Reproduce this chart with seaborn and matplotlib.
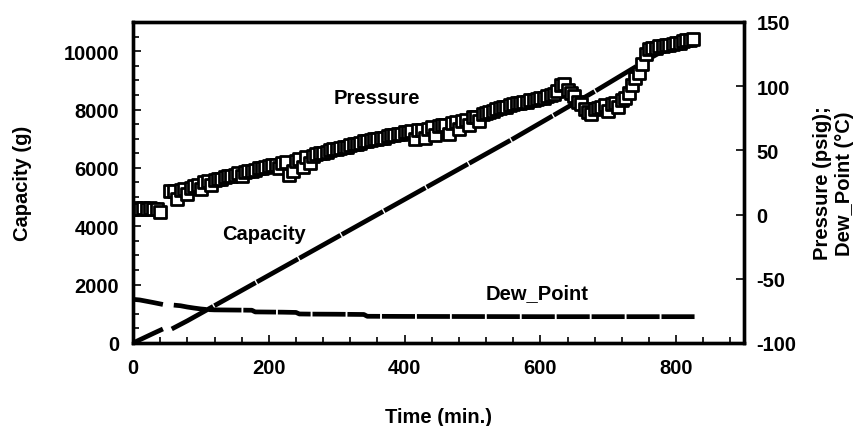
import matplotlib
matplotlib.use("Agg")
import matplotlib.pyplot as plt
import seaborn as sns
import pandas as pd
from matplotlib.ticker import MultipleLocator

sns.set_style("ticks")
plt.rcParams["font.family"] = ["Liberation Sans", "DejaVu Sans"]
plt.rcParams["font.weight"] = "bold"
plt.rcParams["axes.labelweight"] = "bold"
plt.rcParams["axes.unicode_minus"] = False
for key in ["text.color", "axes.labelcolor", "xtick.color", "ytick.color", "axes.edgecolor"]:
    plt.rcParams[key] = "black"

# capacity (g) -- two runs, the logger paused around 45-55 min
cap_time_1 = [0, 10, 20, 30, 44]
cap_1 = [0, 110, 220, 330, 480]
cap_time_2 = [57, 80, 100, 120, 140, 160, 180, 200, 220, 240, 260, 280, 300,
              320, 340, 360, 380, 400, 420, 440, 460, 480, 500, 520, 540, 560,
              580, 600, 620, 640, 660, 680, 700, 720, 740, 760, 780, 800, 826]
cap_2 = [480, 760, 1020, 1280, 1540, 1800, 2060, 2320, 2580, 2840, 3100, 3360,
         3620, 3880, 4140, 4400, 4660, 4920, 5180, 5440, 5700, 5960, 6220,
         6480, 6740, 7000, 7270, 7540, 7810, 8080, 8350, 8620, 8900, 9180,
         9460, 9740, 10000, 10250, 10500]

# dew point (degC), right axis
dew_time_1 = [0, 10, 20, 30, 44]
dew_1 = [-66, -66.5, -67.5, -68.5, -70]
dew_time_2 = [60, 70, 80, 90, 100, 110, 120, 140, 160, 175, 180, 200, 220,
              240, 245, 260, 300, 340, 345, 400, 500, 600, 700, 800, 828]
dew_2 = [-70.5, -71, -72, -72.8, -73.5, -74, -74.2, -74.3, -74.4, -74.5,
         -75.8, -75.9, -76, -76.2, -77.4, -77.5, -77.6, -77.8, -79.2, -79.3,
         -79.4, -79.5, -79.5, -79.5, -79.5]

# pressure (psig), right axis, one reading every 5 min
pres_time = [0, 5, 10, 15, 20, 25, 30, 35, 40,
             55, 60, 65, 70, 75, 80, 85, 90, 95, 100,
             105, 110, 115, 120, 125, 130, 135, 140, 145, 150,
             155, 160, 165, 170, 175, 180, 185, 190, 195, 200,
             205, 210, 215, 220, 225, 230, 235, 240, 245, 250,
             255, 260, 265, 270, 275, 280, 285, 290, 295, 300,
             305, 310, 315, 320, 325, 330, 335, 340, 345, 350,
             355, 360, 365, 370, 375, 380, 385, 390, 395, 400,
             405, 410, 415, 420, 425, 430, 435, 440, 445, 450,
             455, 460, 465, 470, 475, 480, 485, 490, 495, 500,
             505, 510, 515, 520, 525, 530, 535, 540, 545, 550,
             555, 560, 565, 570, 575, 580, 585, 590, 595, 600,
             605, 610, 615, 620, 625, 630, 635, 640, 645, 650,
             655, 660, 665, 670, 675, 680, 685, 690, 695, 700,
             705, 710, 715, 720, 725, 730, 735, 740, 745, 750,
             755, 760, 765, 770, 775, 780, 785, 790, 795, 800,
             805, 810, 815, 820, 825]
pressure = [4, 5, 4, 5, 4, 5, 4, 4, 2,
            18, 18, 12, 19, 20, 16, 21, 22, 23, 20,
            25, 26, 23, 27, 28, 28, 29, 30, 30, 31,
            32, 30, 33, 34, 34, 35, 36, 36, 37, 38,
            39, 39, 36, 40, 41, 31, 34, 42, 43, 37,
            45, 40, 46, 47, 48, 48, 49, 50, 51, 51,
            52, 53, 53, 54, 55, 55, 56, 57, 57, 58,
            59, 59, 60, 60, 61, 62, 62, 63, 63, 64,
            64, 65, 59, 66, 66, 60, 67, 68, 62, 69,
            70, 70, 63, 71, 72, 67, 73, 74, 70, 76,
            76, 73, 78, 79, 80, 81, 82, 83, 84, 84,
            85, 86, 87, 87, 88, 88, 89, 89, 90, 91,
            91, 92, 93, 94, 96, 101, 102, 97, 95, 92,
            88, 86, 82, 80, 78, 82, 83, 84, 85, 81,
            86, 87, 84, 89, 91, 95, 101, 106, 110, 117,
            125, 129, 130, 130, 131, 131, 132, 132, 133, 134,
            134, 135, 136, 136, 137]

df_p = pd.DataFrame({"Time": pres_time, "Pressure": pressure})

fs = 14.5
fig = plt.figure(figsize=(8.65, 4.27), dpi=100)
ax = fig.add_axes([0.1538, 0.1944, 0.7064, 0.7518])
ax2 = ax.twinx()

cap_kw = dict(color="black", lw=3.4, linestyle=(0, (10, 0.3)))
dew_kw = dict(color="black", lw=3.4, linestyle=(0, (7, 0.4)))
sns.lineplot(x=cap_time_1, y=cap_1, ax=ax, **cap_kw)
sns.lineplot(x=cap_time_2, y=cap_2, ax=ax, **cap_kw)
sns.lineplot(x=dew_time_1, y=dew_1, ax=ax2, **dew_kw)
sns.lineplot(x=dew_time_2, y=dew_2, ax=ax2, **dew_kw)
sns.scatterplot(data=df_p, x="Time", y="Pressure", ax=ax2, marker="s", s=80,
                facecolor="white", edgecolor="black", linewidth=2.0)

ax.set_xlim(0, 900)
ax.set_ylim(0, 11000)
ax2.set_ylim(-100, 150)
ax.xaxis.set_major_locator(MultipleLocator(200))
ax.xaxis.set_minor_locator(MultipleLocator(40))
ax.yaxis.set_major_locator(MultipleLocator(2000))
ax.yaxis.set_minor_locator(MultipleLocator(500))
ax2.yaxis.set_major_locator(MultipleLocator(50))

ax.tick_params(which="both", direction="in", width=1.2, labelsize=fs,
               top=False, right=False)
ax.tick_params(which="major", length=6)
ax.tick_params(which="minor", length=4)
ax.tick_params(axis="x", pad=11)
ax.tick_params(axis="y", pad=10)
ax2.tick_params(direction="in", width=1.2, length=6, labelsize=fs, pad=9)
for a in (ax, ax2):
    for sp in a.spines.values():
        sp.set_linewidth(2.4)
        sp.set_color("black")

ax.set_xlabel("Time (min.)", fontsize=fs)
ax.set_ylabel("Capacity (g)", fontsize=fs)
ax2.set_ylabel("Pressure (psig);\nDew_Point (°C)", fontsize=fs)
ax.xaxis.set_label_coords(0.5, -0.2)
ax.yaxis.set_label_coords(-0.165, 0.5)
ax2.yaxis.set_label_coords(1.113, 0.5)

ax2.text(359, 91, "Pressure", ha="center", va="center", fontsize=fs)
ax2.text(193, -15, "Capacity", ha="center", va="center", fontsize=fs)
ax2.text(595, -61, "Dew_Point", ha="center", va="center", fontsize=fs)

fig.savefig("out.png", dpi=100)
